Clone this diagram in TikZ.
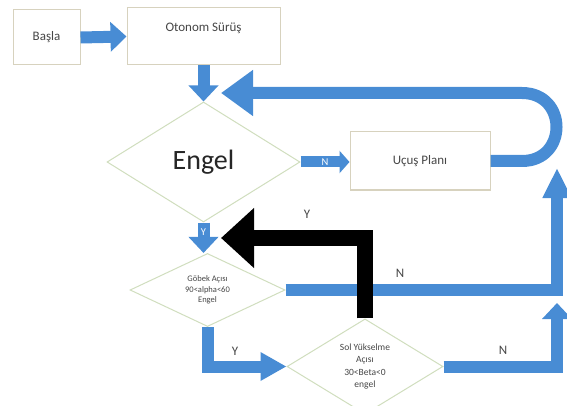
\documentclass[tikz,border=0pt]{standalone}
\usepackage{fontspec}
\setmainfont{Carlito}
\usetikzlibrary{arrows.meta,shapes.geometric}
\definecolor{flowblue}{RGB}{72,140,212}
\definecolor{boxline}{RGB}{215,210,190}
\definecolor{dialine}{RGB}{208,222,190}
\definecolor{txt}{RGB}{70,70,70}
\begin{document}
\begin{tikzpicture}[x=1pt,y=-1pt,
  box/.style={draw=boxline, line width=1pt, fill=white, inner sep=0pt, text=txt},
  dia/.style={diamond, draw=dialine, line width=1pt, fill=white, inner sep=0pt, text=txt, align=center},
  boxfont/.style={font=\fontsize{13}{15}\selectfont},
  lbl/.style={text=txt, font=\fontsize{13}{15}\selectfont, inner sep=0pt},
  onarrow/.style={text=white, font=\fontsize{10.5}{12}\selectfont, inner sep=0pt},
  blk/.style={draw=flowblue, line width=12pt, -{Triangle[width=29pt,length=16pt]}},
  blkbig/.style={draw=flowblue, line width=12pt, -{Triangle[width=44pt,length=32pt]}},
  blkup/.style={draw=flowblue, line width=12pt, -{Triangle[width=27pt,length=30pt]}},
  blklong/.style={draw=flowblue, line width=12pt, -{Triangle[width=27pt,length=26pt]}},
  blksmall/.style={draw=flowblue, line width=11pt, -{Triangle[width=22pt,length=10pt]}},
  blackarr/.style={draw=black, line width=16pt, -{Triangle[width=58pt,length=33pt]}}
]
\useasboundingbox (0,0) rectangle (567,406);

% boxes
\node[box, boxfont, minimum width=67pt, minimum height=55pt] (start) at (46.5,37.5) {Başla};
\node[box, minimum width=153pt, minimum height=57pt] (oto) at (203.5,36.5) {};
\node[lbl] (otolabel) at (203.5,28) {Otonom Sürüş};
\node[box, boxfont, minimum width=140pt, minimum height=58pt] (ucus) at (420,161) {Uçuş Planı};

% diamonds
\node[dia, minimum width=193pt, minimum height=120pt, font=\fontsize{28}{30}\selectfont, text=black!85] (engel) at (203.5,162) {Engel};
\node[dia, minimum width=155pt, minimum height=70pt, font=\fontsize{8.5}{10.5}\selectfont] (d1) at (207.5,290) {Göbek Açısı\\90<alpha<60\\Engel};
\node[dia, minimum width=156pt, minimum height=73pt, font=\fontsize{9.5}{12.3}\selectfont] (d2) at (365,366.5) {Sol Yükselme\\Açısı\\30<Beta<0\\engel};

% free ends
\coordinate (looptip) at (221,93);
\coordinate (up1) at (557,168);
\coordinate (up2) at (557,303);
\coordinate (ytip) at (221,238);

% blue connectors
\draw[blk] (start.east) -- (oto.west);
\draw[blk] (oto.south) -- (engel.north);
\draw[blksmall] (engel.east) -- node[onarrow] {N} (engel.east -| ucus.west);
\draw[blkbig] (ucus.east) -- (522,161) .. controls (568,161) and (568,93) .. (522,93) -- (looptip);
\draw[blk] (engel.south) -- node[onarrow, pos=0.3] {Y} (engel.south |- d1.north);
\draw[blkup] (d1.east) -| (up1);
\draw[blklong] (d1.south) |- (d2.west);
\draw[blk] (d2.east) -| (up2);

% black connector
\draw[blackarr] (d2.north) |- (ytip);

% labels
\node[lbl] (n1) at (400,273) {N};
\node[lbl] (y2) at (235,351) {Y};
\node[lbl] (n2) at (503,350) {N};
\node[lbl] (y3) at (307,214) {Y};
\end{tikzpicture}
\end{document}
